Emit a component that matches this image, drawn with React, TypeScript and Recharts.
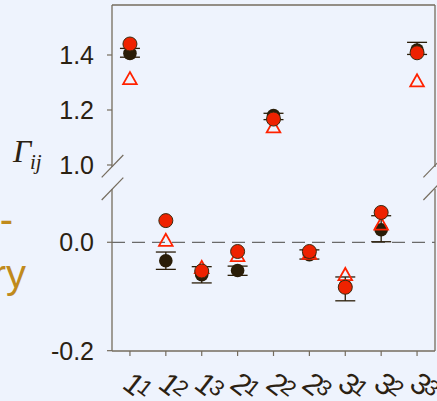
import React from 'react';
import { ScatterChart, Scatter, XAxis, YAxis, ErrorBar, ReferenceLine } from 'recharts';

// category labels: main index + subscript index
const CATEGORIES = ['11', '12', '13', '21', '22', '23', '31', '32', '33'];
const X_TICKS = [1, 2, 3, 4, 5, 6, 7, 8, 9];

// upper panel (diagonal elements)
const UPPER_CATS = ['11', '22', '33'];
const UPPER_MEASURED = [1.406, 1.18, 1.418];
const UPPER_ERR_LOW = [0.014, 0.015, 0.016];
const UPPER_ERR_HIGH = [0.018, 0.008, 0.028];
const UPPER_THEORY_A = [1.44, 1.167, 1.408];
const UPPER_THEORY_B = [1.315, 1.14, 1.307];
const UPPER_TICKS = [1.0, 1.2, 1.4];
const UPPER_DOMAIN: [number, number] = [0.9927, 1.5818];

// lower panel (off-diagonal elements)
const LOWER_CATS = ['12', '13', '21', '23', '31', '32'];
const LOWER_MEASURED = [-0.034, -0.06, -0.052, -0.023, -0.081, 0.023];
const LOWER_ERR_LOW = [0.016, 0.015, 0.009, 0.008, 0.027, 0.022];
const LOWER_ERR_HIGH = [0.016, 0.015, 0.008, 0.009, 0.017, 0.026];
const LOWER_THEORY_A = [0.04, -0.053, -0.017, -0.017, -0.083, 0.055];
const LOWER_THEORY_B = [0.004, -0.046, -0.024, -0.02, -0.059, 0.034];
const LOWER_TICKS = [-0.2, 0.0];
const LOWER_DOMAIN: [number, number] = [-0.2006, 0.0983];

const AXIS = '#756C5E';
const TEXT = '#2B2112';
const BG = '#EEF3FD';
const FONT = '"Liberation Sans", Arial, sans-serif';

const idx = (c: string) => CATEGORIES.indexOf(c) + 1;
const mk = (cats: string[], vals: number[], lo?: number[], hi?: number[]) =>
  cats.map((c, i) => ({ x: idx(c), y: vals[i], err: lo && hi ? [lo[i], hi[i]] : undefined }));

const upperMeasured = mk(UPPER_CATS, UPPER_MEASURED, UPPER_ERR_LOW, UPPER_ERR_HIGH);
const upperA = mk(UPPER_CATS, UPPER_THEORY_A);
const upperB = mk(UPPER_CATS, UPPER_THEORY_B);
const lowerMeasured = mk(LOWER_CATS, LOWER_MEASURED, LOWER_ERR_LOW, LOWER_ERR_HIGH);
const lowerA = mk(LOWER_CATS, LOWER_THEORY_A);
const lowerB = mk(LOWER_CATS, LOWER_THEORY_B);

const BlackDot = (p: any) => <circle cx={p.cx} cy={p.cy} r={6.8} fill="#2A1D08" />;
const RedDot = (p: any) => (
  <circle cx={p.cx} cy={p.cy} r={7} fill="#EE2200" stroke="#3A2A10" strokeWidth={1} />
);
const Tri = (p: any) => (
  <polygon
    points={`${p.cx},${p.cy - 6.3} ${p.cx - 6.8},${p.cy + 5.8} ${p.cx + 6.8},${p.cy + 5.8}`}
    fill="none"
    stroke="#FF2200"
    strokeWidth={1.8}
  />
);

const XTick = (props: any) => {
  const { x, y, payload } = props;
  const label = CATEGORIES[payload.value - 1] || '';
  return (
    <text x={x - 9} y={y + 29} rotate={38} fill={TEXT} fontSize={30} fontFamily={FONT}>
      {label[0]}
      <tspan fontSize={22} dy={3} dx={-2} rotate={38}>
        {label[1]}
      </tspan>
    </text>
  );
};

const yTickStyle = { fill: TEXT, fontSize: 25, fontFamily: FONT };

export default function App() {
  return (
    <div
      style={{
        position: 'absolute',
        left: 0,
        top: 0,
        width: 437,
        height: 401,
        background: BG,
        overflow: 'hidden',
      }}
    >
      <div style={{ position: 'absolute', left: 0, top: 0 }}>
        <ScatterChart width={437} height={185} margin={{ top: 4, right: 0, left: 0, bottom: 18 }}>
          <XAxis
            type="number"
            dataKey="x"
            domain={[0.5, 9.5]}
            orientation="top"
            height={1}
            tick={false}
            tickLine={false}
            axisLine={{ stroke: AXIS, strokeWidth: 1.3 }}
          />
          <YAxis
            type="number"
            dataKey="y"
            domain={UPPER_DOMAIN}
            allowDataOverflow
            ticks={UPPER_TICKS}
            interval={0}
            tickFormatter={(v: number) => v.toFixed(1)}
            width={112}
            tickSize={5}
            tickMargin={13}
            tick={yTickStyle}
            axisLine={{ stroke: AXIS, strokeWidth: 1.3 }}
            tickLine={{ stroke: AXIS, strokeWidth: 1.2 }}
          />
          <YAxis
            yAxisId="r"
            orientation="right"
            type="number"
            domain={UPPER_DOMAIN}
            width={2}
            tick={false}
            tickLine={false}
            axisLine={{ stroke: AXIS, strokeWidth: 1.3 }}
          />
          <Scatter data={upperMeasured} dataKey="y" shape={BlackDot} isAnimationActive={false}>
            <ErrorBar dataKey="err" direction="y" width={10} stroke="#2A1D08" strokeWidth={1.3} />
          </Scatter>
          <Scatter data={upperB} dataKey="y" shape={Tri} isAnimationActive={false} />
          <Scatter data={upperA} dataKey="y" shape={RedDot} isAnimationActive={false} />
        </ScatterChart>
      </div>
      <div style={{ position: 'absolute', left: 0, top: 0 }}>
        <ScatterChart width={437} height={401} margin={{ top: 189, right: 0, left: 0, bottom: 0 }}>
          <XAxis
            type="number"
            dataKey="x"
            domain={[0.5, 9.5]}
            ticks={X_TICKS}
            interval={0}
            height={50}
            tick={<XTick />}
            tickSize={5}
            axisLine={{ stroke: AXIS, strokeWidth: 1.3 }}
            tickLine={{ stroke: AXIS, strokeWidth: 1.2 }}
          />
          <YAxis
            type="number"
            dataKey="y"
            domain={LOWER_DOMAIN}
            allowDataOverflow
            ticks={LOWER_TICKS}
            interval={0}
            tickFormatter={(v: number) => v.toFixed(1)}
            width={112}
            tickSize={5}
            tickMargin={13}
            tick={yTickStyle}
            axisLine={{ stroke: AXIS, strokeWidth: 1.3 }}
            tickLine={{ stroke: AXIS, strokeWidth: 1.2 }}
          />
          <YAxis
            yAxisId="r"
            orientation="right"
            type="number"
            domain={LOWER_DOMAIN}
            width={2}
            tick={false}
            tickLine={false}
            axisLine={{ stroke: AXIS, strokeWidth: 1.3 }}
          />
          <ReferenceLine y={0} stroke="#6A6A6A" strokeWidth={1.3} strokeDasharray="13 7" />
          <Scatter data={lowerMeasured} dataKey="y" shape={BlackDot} isAnimationActive={false}>
            <ErrorBar dataKey="err" direction="y" width={10} stroke="#2A1D08" strokeWidth={1.3} />
          </Scatter>
          <Scatter data={lowerB} dataKey="y" shape={Tri} isAnimationActive={false} />
          <Scatter data={lowerA} dataKey="y" shape={RedDot} isAnimationActive={false} />
        </ScatterChart>
      </div>
      <svg
        width={437}
        height={401}
        style={{ position: 'absolute', left: 0, top: 0, pointerEvents: 'none' }}
      >
        <g stroke={AXIS} strokeWidth={1.2}>
          <line x1={101.7} y1={177.3} x2={123.3} y2={155} />
          <line x1={101.7} y1={200} x2={123.3} y2={177.7} />
          <line x1={423.4} y1={177.3} x2={445} y2={155} />
          <line x1={423.4} y1={200} x2={445} y2={177.7} />
        </g>
        <text x={13} y={162} fontSize={32} fontStyle="italic" fontFamily='"Liberation Serif", "Times New Roman", serif' fill={TEXT}>
          Γ
        </text>
        <text x={30} y={169} fontSize={21} fontStyle="italic" fontFamily='"Liberation Serif", "Times New Roman", serif' fill={TEXT}>
          ij
        </text>
        <text x={13} y={233} fontSize={40} textAnchor="end" fontFamily={FONT} fill="#C08A1C">
          r-
        </text>
        <text x={26} y={288} fontSize={40} textAnchor="end" fontFamily={FONT} fill="#C08A1C">
          ry
        </text>
      </svg>
    </div>
  );
}
